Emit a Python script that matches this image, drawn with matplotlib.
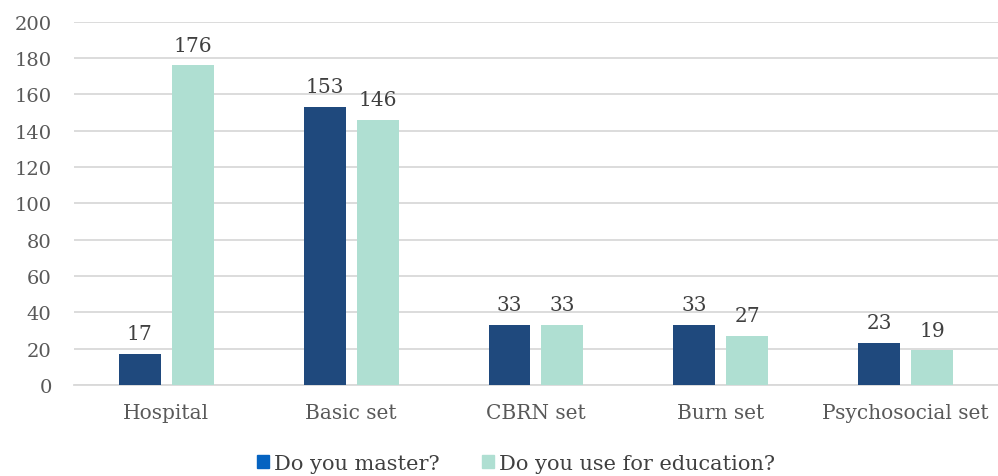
import matplotlib.pyplot as plt
import numpy as np

# data
categories = ['Hospital', 'Basic set', 'CBRN set', 'Burn set', 'Psychosocial set']
master = [17, 153, 33, 33, 23]
education = [176, 146, 33, 27, 19]
yticks = [0, 20, 40, 60, 80, 100, 120, 140, 160, 180, 200]

dark = '#1F497D'
light = '#AFDFD2'
txt = '#595959'
grid = '#D9D9D9'

plt.rcParams['font.family'] = ['DejaVu Serif']

fig = plt.figure(figsize=(9.98, 4.77), dpi=100)
ax = fig.add_axes([0.074, 0.191, 0.926, 0.761])

x = np.arange(len(categories))
w = 0.227
off = 0.143
b1 = ax.bar(x - off, master, w, color=dark, zorder=3)
b2 = ax.bar(x + off, education, w, color=light, zorder=3)

for bars, vals in [(b1, master), (b2, education)]:
    for r, v in zip(bars, vals):
        ax.text(r.get_x() + r.get_width() / 2, v + 6, str(v), ha='center', va='bottom',
                fontsize=14.5, color='#404040')

ax.set_xlim(-0.5, len(categories) - 0.5)
ax.set_ylim(0, 200)
ax.set_yticks(yticks)
ax.set_yticklabels([str(t) for t in yticks], fontsize=14, color=txt)
ax.set_xticks(x)
ax.set_xticklabels(categories, fontsize=14.5, color=txt)
ax.tick_params(axis='both', length=0)
ax.tick_params(axis='y', pad=16)
ax.tick_params(axis='x', pad=13)
ax.grid(axis='y', color=grid, linewidth=1.3, zorder=0)
for s in ['left', 'right', 'top']:
    ax.spines[s].set_visible(False)
ax.spines['bottom'].set_color(grid)
ax.spines['bottom'].set_linewidth(1.3)

h1 = plt.Rectangle((0, 0), 1, 1, color='#0563C1')
h2 = plt.Rectangle((0, 0), 1, 1, color=light)
fig.legend([h1, h2], ['Do you master?', 'Do you use for education?'],
           loc='center', bbox_to_anchor=(0.517, 0.027), ncol=2, frameon=False,
           fontsize=15, labelcolor='#404040', handlelength=0.6, handleheight=0.6,
           handletextpad=0.25, columnspacing=2.0)

fig.savefig('out.png', dpi=100)
